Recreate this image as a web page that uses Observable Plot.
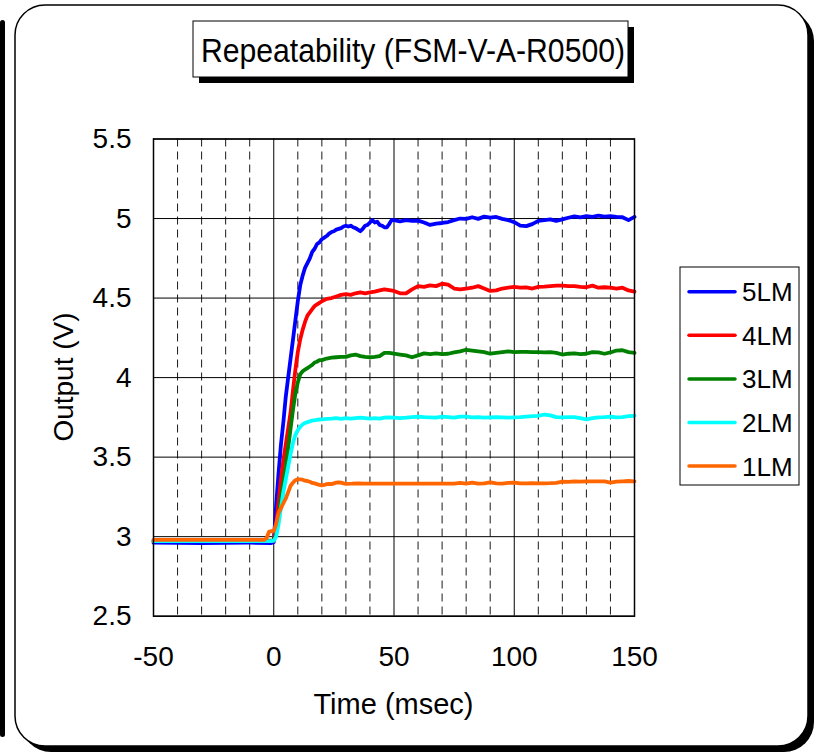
<!DOCTYPE html>
<html><head><meta charset="utf-8">
<script src="https://cdn.jsdelivr.net/npm/d3@7"></script>
<script src="https://cdn.jsdelivr.net/npm/@observablehq/plot@0.6"></script>
<style>body{margin:0;background:#fff}</style>
</head><body><div id="chart"></div>
<script>
const chartTitle = "Repeatability (FSM-V-A-R0500)";
const xLabel = "Time (msec)";
const yLabel = "Output (V)";
const seriesNames = ["5LM", "4LM", "3LM", "2LM", "1LM"];
const seriesColors = ["#0000FF", "#FF0000", "#008000", "#00FFFF", "#FF6600"];
const xTicks = [-50, 0, 50, 100, 150];
const xMinor = [-40, -30, -20, -10, 10, 20, 30, 40, 60, 70, 80, 90, 110, 120, 130, 140];
const yTicks = [2.5, 3, 3.5, 4, 4.5, 5, 5.5];

// [time (msec), output (V)]
const lm5 = [[-50,2.962],[-30,2.96],[-10,2.962],[-1,2.96],[0,2.965],[1,3.2],[2,3.4],[3,3.58],[4,3.72],[5,3.88],[6,4.0],[7,4.12],[8,4.24],[9,4.36],[10,4.48],[11,4.58],[12,4.64],[13,4.69],[14,4.72],[15,4.75],[16,4.79],[17,4.81],[18,4.84],[19,4.85],[20,4.87],[21,4.88],[22,4.89],[23,4.905],[24,4.915],[25,4.92],[26,4.93],[27,4.935],[28,4.94],[29,4.95],[30,4.955],[31,4.95],[32,4.955],[33,4.945],[34,4.94],[35,4.93],[36,4.92],[37,4.935],[38,4.955],[39,4.96],[40,4.975],[41,4.99],[42,4.975],[43,4.98],[44,4.96],[45,4.955],[46,4.945],[47,4.945],[48,4.965],[49,4.99],[50,4.99],[52.5,4.982],[55,4.99],[57.5,4.985],[60,4.987],[62.5,4.975],[65,4.96],[67.5,4.968],[70,4.972],[72.5,4.978],[75,4.99],[77.5,5.0],[80,4.998],[82.5,5.008],[85,4.998],[87.5,5.012],[90,5.005],[92.5,5.01],[95,4.998],[97.5,4.99],[100,4.977],[102.5,4.955],[105,4.952],[107.5,4.965],[110,4.985],[112.5,4.99],[115,4.995],[117.5,4.985],[120,4.995],[122.5,5.005],[125,5.013],[127.5,5.008],[130,5.015],[132.5,5.01],[135,5.018],[137.5,5.012],[140,5.015],[142.5,5.01],[145,5.008],[147.5,4.99],[150,5.01]];
const lm4 = [[-50,2.972],[-30,2.972],[-10,2.972],[-1,2.972],[0,2.975],[1,3.08],[2,3.22],[3,3.36],[4,3.48],[5,3.58],[6,3.68],[7,3.78],[8,3.92],[9,4.05],[10,4.16],[11,4.24],[12,4.3],[13,4.35],[14,4.39],[15,4.41],[16,4.43],[17,4.45],[18,4.46],[19,4.47],[20,4.48],[22,4.495],[24,4.5],[26,4.51],[28,4.52],[30,4.525],[32,4.52],[34,4.53],[36,4.535],[38,4.53],[40,4.535],[42,4.54],[44,4.548],[46,4.555],[48,4.55],[50,4.545],[52.5,4.53],[55,4.53],[57.5,4.555],[60,4.575],[62.5,4.57],[65,4.58],[67.5,4.575],[70,4.59],[72.5,4.585],[75,4.56],[77.5,4.555],[80,4.56],[82.5,4.565],[85,4.575],[87.5,4.56],[90,4.545],[92.5,4.548],[95,4.56],[97.5,4.565],[100,4.57],[102.5,4.565],[105,4.567],[107.5,4.56],[110,4.57],[112.5,4.572],[115,4.575],[117.5,4.578],[120,4.578],[122.5,4.575],[125,4.575],[127.5,4.57],[130,4.568],[132.5,4.578],[135,4.565],[137.5,4.568],[140,4.565],[142.5,4.56],[145,4.565],[147.5,4.548],[150,4.54]];
const lm3 = [[-50,2.975],[-30,2.975],[-10,2.975],[-1,2.975],[0,2.975],[1,3.02],[2,3.13],[3,3.24],[4,3.34],[5,3.44],[6,3.56],[7,3.68],[8,3.8],[9,3.9],[10,3.97],[11,4.02],[12,4.04],[13,4.05],[14,4.06],[15,4.07],[16,4.08],[17,4.095],[18,4.1],[19,4.11],[20,4.11],[22,4.12],[24,4.125],[26,4.128],[28,4.13],[30,4.13],[32,4.14],[34,4.145],[36,4.135],[38,4.13],[40,4.128],[42,4.13],[44,4.135],[46,4.155],[48,4.155],[50,4.15],[52.5,4.145],[55,4.14],[57.5,4.128],[60,4.14],[62.5,4.152],[65,4.148],[67.5,4.152],[70,4.148],[72.5,4.15],[75,4.158],[77.5,4.165],[80,4.175],[82.5,4.17],[85,4.165],[87.5,4.16],[90,4.15],[92.5,4.155],[95,4.16],[97.5,4.165],[100,4.16],[102.5,4.162],[105,4.162],[107.5,4.16],[110,4.16],[112.5,4.158],[115,4.16],[117.5,4.155],[120,4.145],[122.5,4.15],[125,4.152],[127.5,4.148],[130,4.15],[132.5,4.16],[135,4.158],[137.5,4.15],[140,4.158],[142.5,4.17],[145,4.172],[147.5,4.16],[150,4.155]];
const lm2 = [[-50,2.972],[-30,2.972],[-10,2.972],[-1,2.972],[0,2.975],[1,3.0],[2,3.08],[3,3.18],[4,3.28],[5,3.36],[6,3.44],[7,3.52],[8,3.59],[9,3.64],[10,3.67],[11,3.69],[12,3.705],[13,3.715],[14,3.72],[15,3.725],[16,3.73],[18,3.735],[20,3.738],[22,3.74],[24,3.742],[26,3.745],[28,3.74],[30,3.745],[32,3.742],[34,3.745],[36,3.748],[38,3.745],[40,3.742],[42,3.745],[44,3.742],[46,3.748],[48,3.75],[50,3.748],[52.5,3.745],[55,3.748],[57.5,3.752],[60,3.755],[62.5,3.752],[65,3.75],[67.5,3.748],[70,3.755],[72.5,3.752],[75,3.748],[77.5,3.755],[80,3.755],[82.5,3.75],[85,3.752],[87.5,3.748],[90,3.75],[92.5,3.752],[95,3.75],[97.5,3.748],[100,3.75],[102.5,3.752],[105,3.755],[107.5,3.758],[110,3.76],[112.5,3.768],[115,3.762],[117.5,3.752],[120,3.75],[122.5,3.752],[125,3.752],[127.5,3.745],[130,3.738],[132.5,3.745],[135,3.75],[137.5,3.752],[140,3.755],[142.5,3.75],[145,3.752],[147.5,3.758],[150,3.76]];
const lm1 = [[-50,2.98],[-30,2.98],[-10,2.98],[-4,2.98],[-3,2.99],[-2,3.03],[-1,3.035],[0,3.035],[1,3.08],[2,3.15],[3,3.18],[4,3.21],[5,3.24],[6,3.28],[7,3.32],[8,3.34],[9,3.355],[10,3.36],[11,3.36],[12,3.358],[13,3.352],[14,3.35],[15,3.345],[16,3.338],[17,3.335],[18,3.33],[19,3.325],[20,3.322],[21,3.325],[22,3.33],[23,3.332],[24,3.33],[25,3.335],[26,3.34],[27,3.342],[28,3.34],[29,3.335],[30,3.332],[32.5,3.333],[35,3.335],[37.5,3.333],[40,3.333],[42.5,3.333],[45,3.334],[47.5,3.333],[50,3.333],[52.5,3.334],[55,3.333],[57.5,3.333],[60,3.333],[62.5,3.334],[65,3.333],[67.5,3.334],[70,3.333],[72.5,3.334],[75,3.333],[77.5,3.338],[80,3.334],[82.5,3.34],[85,3.334],[87.5,3.335],[90,3.342],[92.5,3.335],[95,3.334],[97.5,3.338],[100,3.34],[102.5,3.335],[105,3.335],[107.5,3.336],[110,3.335],[112.5,3.335],[115,3.336],[117.5,3.338],[120,3.346],[122.5,3.344],[125,3.348],[127.5,3.346],[130,3.348],[132.5,3.348],[135,3.348],[137.5,3.347],[140,3.34],[142.5,3.346],[145,3.348],[147.5,3.35],[150,3.348]];

const seriesData = [lm5, lm4, lm3, lm2, lm1];
const rows = seriesData.flatMap((arr, i) => arr.map(([t, v]) => ({t, v, s: seriesNames[i]})));

const FONT = "'Liberation Sans', Arial, Helvetica, sans-serif";

const plot = Plot.plot({
  width: 818,
  height: 752,
  marginLeft: 153,
  marginRight: 184,
  marginTop: 138.5,
  marginBottom: 136.3,
  style: {fontFamily: FONT, fontSize: "28px", background: "transparent", color: "#000"},
  x: {domain: [-50, 150], label: null},
  y: {domain: [2.5, 5.5], label: null},
  color: {domain: seriesNames, range: seriesColors},
  marks: [
    Plot.ruleX(xMinor, {stroke: "#000", strokeWidth: 1, strokeDasharray: "8,5", strokeOpacity: 0.9}),
    Plot.ruleX(xTicks, {stroke: "#000", strokeWidth: 1}),
    Plot.ruleY(yTicks, {stroke: "#000", strokeWidth: 1}),
    Plot.line(rows, {x: "t", y: "v", z: "s", stroke: "s", strokeWidth: 3.8, strokeLinejoin: "round", strokeLinecap: "round"}),
    Plot.frame({stroke: "#000", strokeWidth: 1.5}),
    Plot.axisX({ticks: xTicks, tickSize: 0, tickPadding: 30, fontSize: 28, label: null, tickFormat: d => String(d)}),
    Plot.axisY({ticks: yTicks, tickSize: 0, tickPadding: 22, fontSize: 28, label: null, tickFormat: d => String(d)})
  ]
});

const svg = d3.select(plot);
svg.style("font-family", FONT);
const bg = svg.insert("g", ":first-child");
bg.append("rect").attr("x", 0).attr("y", 20).attr("width", 5).attr("height", 717).attr("rx", 2.5).attr("fill", "#000");
bg.append("rect").attr("x", 21).attr("y", 11).attr("width", 793).attr("height", 741).attr("rx", 30).attr("fill", "#000");
bg.append("rect").attr("x", 15).attr("y", 5).attr("width", 793).attr("height", 741).attr("rx", 30).attr("fill", "#fff").attr("stroke", "#000").attr("stroke-width", 1.5);

const fg = svg.append("g").attr("text-anchor", "start");
// title box
fg.append("rect").attr("x", 199).attr("y", 27).attr("width", 435).attr("height", 56).attr("fill", "#000");
fg.append("rect").attr("x", 193).attr("y", 21).attr("width", 435).attr("height", 56).attr("fill", "#fff").attr("stroke", "#000").attr("stroke-width", 1);
fg.append("text").attr("x", 413).attr("y", 62).attr("text-anchor", "middle")
  .attr("font-size", 33).attr("textLength", 424).attr("lengthAdjust", "spacingAndGlyphs").attr("fill", "#000").text(chartTitle);

// axis titles
fg.append("text").attr("x", 393.5).attr("y", 714).attr("text-anchor", "middle").attr("font-size", 29).attr("fill", "#000").text(xLabel);
fg.append("text").attr("transform", "translate(73,377) rotate(-90)").attr("text-anchor", "middle").attr("font-size", 28).attr("fill", "#000").text(yLabel);

// legend
const lg = fg.append("g");
lg.append("rect").attr("x", 680).attr("y", 267).attr("width", 119).attr("height", 218).attr("fill", "#fff").attr("stroke", "#000").attr("stroke-width", 1);
seriesNames.forEach((name, i) => {
  const y = 291.7 + i * 43.6;
  lg.append("line").attr("x1", 689).attr("x2", 735).attr("y1", y).attr("y2", y).attr("stroke", seriesColors[i]).attr("stroke-width", 3.5).attr("stroke-linecap", "round");
  lg.append("text").attr("x", 742).attr("y", y + 9.5).attr("text-anchor", "start").attr("font-size", 26).attr("fill", "#000").text(name);
});

document.getElementById("chart").appendChild(plot);
</script>
</body></html>
